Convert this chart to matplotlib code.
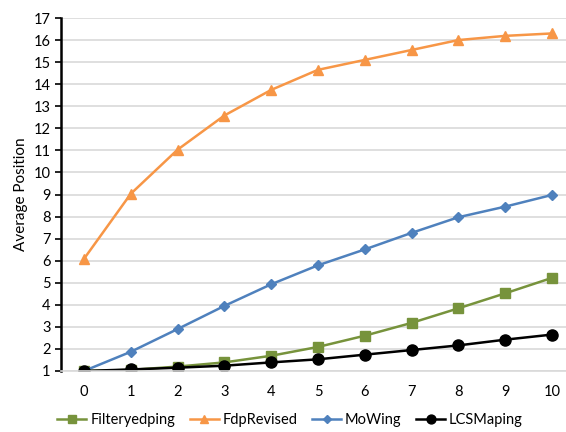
import matplotlib.pyplot as plt

plt.rcParams['font.family'] = ['Lato', 'DejaVu Sans']

x = list(range(11))
filteryedping = [1.0, 1.05, 1.2, 1.39, 1.69, 2.09, 2.6, 3.18, 3.84, 4.52, 5.22]
fdp_revised = [6.08, 9.03, 11.03, 12.58, 13.74, 14.65, 15.1, 15.55, 16.0, 16.19, 16.3]
mowing = [1.0, 1.87, 2.9, 3.95, 4.93, 5.79, 6.51, 7.26, 7.97, 8.45, 8.98]
lcs_maping = [1.0, 1.07, 1.15, 1.24, 1.39, 1.53, 1.74, 1.95, 2.16, 2.42, 2.65]

fig = plt.figure(figsize=(5.66, 4.32), dpi=100)
ax = fig.add_axes([61 / 566, 1 - 371 / 432, 505 / 566, 353 / 432])

ax.plot(x, filteryedping, color="#77933C", lw=1.8, marker="s", ms=7.5, label="Filteryedping")
ax.plot(x, fdp_revised, color="#F79646", lw=1.8, marker="^", ms=7.5, label="FdpRevised")
ax.plot(x, mowing, color="#4F81BD", lw=1.8, marker="D", ms=5.5, label="MoWing")
ax.plot(x, lcs_maping, color="black", lw=1.8, marker="o", ms=8, label="LCSMaping")

ax.set_xlim(-0.49, 10.3)
ax.set_ylim(1, 17)
ax.set_xticks(x)
ax.set_yticks(range(1, 18))
ax.grid(axis="y", color="#D9D9D9", lw=1.2)
ax.set_axisbelow(True)

for s in ["top", "right"]:
    ax.spines[s].set_visible(False)
ax.spines["left"].set_linewidth(1.8)
ax.spines["bottom"].set_color("#D9D9D9")
ax.spines["bottom"].set_linewidth(1.2)
ax.tick_params(axis="x", length=0, pad=10, labelsize=10.5)
ax.tick_params(axis="y", length=4, width=1.2, labelsize=10.5)

ax.set_ylabel("Average Position", fontsize=11)

fig.legend(loc="center", bbox_to_anchor=(290 / 566, 1 - 420 / 432), ncol=4, frameon=False,
           fontsize=10.5, handlelength=2.0, columnspacing=1.0, handletextpad=0.25,
           markerscale=0.8)

fig.savefig("out.png", dpi=100)
